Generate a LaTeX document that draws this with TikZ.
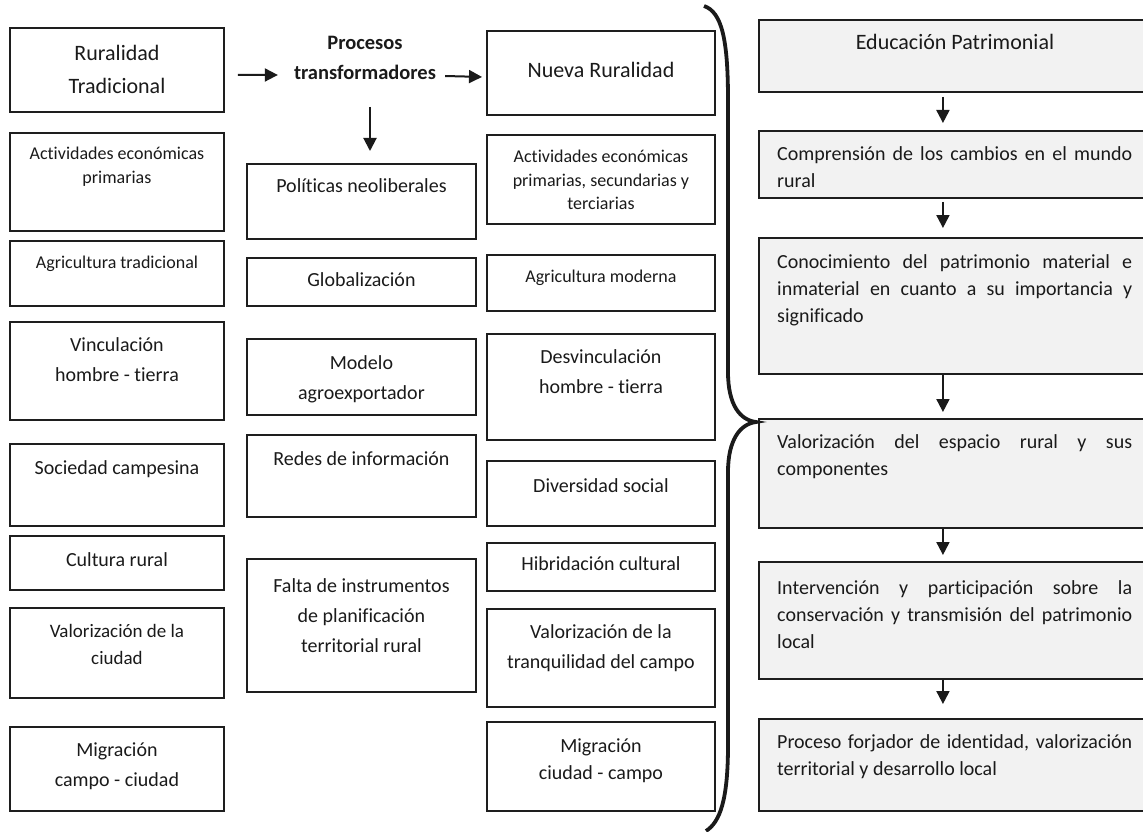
\documentclass[tikz,border=0pt]{standalone}
\usepackage{fontspec}
\setmainfont{Carlito}[Ligatures=NoCommon,RawFeature={-liga;-clig;-dlig;-calt}]
\usetikzlibrary{positioning,arrows.meta}
\definecolor{boxline}{HTML}{1E1E1E}
\definecolor{boxfill}{HTML}{F2F2F2}
\definecolor{ink}{HTML}{1A1A1A}
\hyphenpenalty=10000
\exhyphenpenalty=10000

\begin{document}
\begin{tikzpicture}[
  x=1pt,y=-1pt,
  box/.style={rectangle,draw=boxline,line width=1.9pt,anchor=north west,inner sep=0pt},
  lbox/.style={box,minimum width=214pt,minimum height=#1},
  mbox/.style={box,minimum width=229pt,minimum height=#1},
  nbox/.style={box,minimum width=228pt,minimum height=#1},
  rbox/.style={box,fill=boxfill,minimum width=392pt,minimum height=#1},
  tsm/.style={inner sep=0pt,align=center,text=ink,font=\fontsize{18pt}{24pt}\selectfont},
  tmd/.style={inner sep=0pt,align=center,text=ink,font=\fontsize{20pt}{30pt}\selectfont},
  tlg/.style={inner sep=0pt,align=center,text=ink,font=\fontsize{22pt}{33pt}\selectfont},
  tjust/.style={inner sep=0pt,align=justify,text width=355pt,text=ink,
    font=\fontsize{20pt}{27pt}\selectfont},
  arr/.style={-{Triangle[length=13pt,width=13pt]},line width=2pt,draw=ink}
]
  \useasboundingbox (0,0) rectangle (1143,832);

  % Ruralidad tradicional
  \node[lbox=84pt] (rt) at (9,27) {};
  \node[tlg,below=18pt of rt.north] (rt-t) {Ruralidad\\Tradicional};
  \node[lbox=98pt] (aep) at (9,132) {};
  \node[tsm,below=15pt of aep.north] (aep-t) {Actividades económicas\\primarias};
  \node[lbox=65pt] (agt) at (9,240) {};
  \node[tsm,below=16pt of agt.north] (agt-t) {Agricultura tradicional};
  \node[lbox=98pt] (vht) at (9,321) {};
  \node[tmd,below=16pt of vht.north] (vht-t) {Vinculación\\hombre - tierra};
  \node[lbox=82pt] (sc) at (9,443) {};
  \node[tmd,below=17pt of sc.north] (sc-t) {Sociedad campesina};
  \node[lbox=54pt] (cr) at (9,535) {};
  \node[tmd,below=17pt of cr.north] (cr-t) {Cultura rural};
  \node[lbox=90pt] (vc) at (9,607) {};
  \node[tmd,font=\fontsize{19pt}{27pt}\selectfont,below=17pt of vc.north] (vc-t)
    {Valorización de la\\ciudad};
  \node[lbox=84pt] (mcc) at (9,726) {};
  \node[tmd,below=17pt of mcc.north] (mcc-t) {Migración\\campo - ciudad};

  % procesos transformadores
  \node[tmd,font=\fontsize{20.5pt}{30pt}\selectfont\bfseries] (proc) at (365,58)
    {Procesos\\transformadores};
  \node[mbox=75pt] (pn) at (246,163) {};
  \node[tmd,below=15pt of pn.north] (pn-t) {Políticas neoliberales};
  \node[mbox=48pt] (gl) at (246,257) {};
  \node[tmd,below=15pt of gl.north] (gl-t) {Globalización};
  \node[mbox=76pt] (ma) at (246,338) {};
  \node[tmd,below=17pt of ma.north] (ma-t) {Modelo\\agroexportador};
  \node[mbox=82pt] (ri) at (246,434) {};
  \node[tmd,below=17pt of ri.north] (ri-t) {Redes de información};
  \node[mbox=133pt] (fi) at (246,558) {};
  \node[tmd,below=20pt of fi.north] (fi-t)
    {Falta de instrumentos\\de planificación\\territorial rural};

  % nueva ruralidad
  \node[nbox=84pt] (nr) at (486,30) {};
  \node[tlg,below=32pt of nr.north] (nr-t) {Nueva Ruralidad};
  \node[nbox=89pt] (aept) at (486,134) {};
  \node[tsm,font=\fontsize{18pt}{23.5pt}\selectfont,below=16pt of aept.north] (aept-t)
    {Actividades económicas\\primarias, secundarias y\\terciarias};
  \node[nbox=56pt] (am) at (486,254) {};
  \node[tsm,below=16pt of am.north] (am-t) {Agricultura moderna};
  \node[nbox=106pt] (dht) at (486,333) {};
  \node[tmd,below=16pt of dht.north] (dht-t) {Desvinculación\\hombre - tierra};
  \node[nbox=65pt] (ds) at (486,460) {};
  \node[tmd,below=18pt of ds.north] (ds-t) {Diversidad social};
  \node[nbox=48pt] (hc) at (486,542) {};
  \node[tmd,below=14pt of hc.north] (hc-t) {Hibridación cultural};
  \node[nbox=98pt] (vtc) at (486,608) {};
  \node[tmd,below=16pt of vtc.north] (vtc-t) {Valorización de la\\tranquilidad del campo};
  \node[nbox=89pt] (mcic) at (486,721) {};
  \node[tmd,font=\fontsize{20pt}{27pt}\selectfont,below=18pt of mcic.north] (mcic-t)
    {Migración\\ciudad - campo};

  % educacion patrimonial
  \node[rbox=72pt] (ep) at (758,19) {};
  \node[tlg,below=15pt of ep.north] (ep-t) {Educación Patrimonial};
  \node[rbox=67pt] (cc) at (758,130) {};
  \node[tjust,below right=16pt and 19pt of cc.north west] (cc-t)
    {Comprensión de los cambios en el mundo rural};
  \node[rbox=136pt] (cp) at (758,237) {};
  \node[tjust,below right=17pt and 19pt of cp.north west] (cp-t)
    {Conocimiento del patrimonio material e inmaterial en cuanto a su importancia y significado};
  \node[rbox=109pt] (ve) at (758,418) {};
  \node[tjust,below right=16pt and 19pt of ve.north west] (ve-t)
    {Valorización del espacio rural y sus componentes};
  \node[rbox=117pt] (ip) at (758,561) {};
  \node[tjust,below right=19pt and 19pt of ip.north west] (ip-t)
    {Intervención y participación sobre la conservación y transmisión del patrimonio local};
  \node[rbox=92pt] (pf) at (758,718) {};
  \node[tjust,below right=16pt and 19pt of pf.north west] (pf-t)
    {Proceso forjador de identidad, valorización territorial y desarrollo local};

  \draw[arr] ([xshift=13pt,yshift=-5pt]rt.east) -- ([xshift=-16pt,yshift=-17pt]proc.west);
  \draw[arr] ([xshift=9pt,yshift=-18pt]proc.east) -- ([xshift=-4pt,yshift=-4pt]nr.west);
  \draw[arr,shorten <=27pt,shorten >=12pt] ([xshift=5pt]proc.south) -- ([xshift=5pt]proc.south |- pn.north);

  \draw[arr,shorten <=4pt,shorten >=7pt] ([xshift=-12pt]ep.south) -- ([xshift=-12pt]ep.south |- cc.north);
  \draw[arr,shorten <=3pt,shorten >=9pt] ([xshift=-12pt]cc.south) -- ([xshift=-12pt]cc.south |- cp.north);
  \draw[arr,shorten >=6pt] ([xshift=-12pt]cp.south) -- ([xshift=-12pt]cp.south |- ve.north);
  \draw[arr,shorten >=6pt] ([xshift=-12pt]ve.south) -- ([xshift=-12pt]ve.south |- ip.north);
  \draw[arr,shorten >=14pt] ([xshift=-12pt]ip.south) -- ([xshift=-12pt]ip.south |- pf.north);

  % llave
  \draw[line width=3.8pt,draw=ink] (704,6) .. controls (722,12) and (728,40) .. (728,100)
    -- (728,372) .. controls (728,405) and (740,420) .. (756,422)
    .. controls (740,424) and (728,440) .. (728,472)
    -- (728,745) .. controls (728,800) and (720,822) .. (706,831);
\end{tikzpicture}
\end{document}
